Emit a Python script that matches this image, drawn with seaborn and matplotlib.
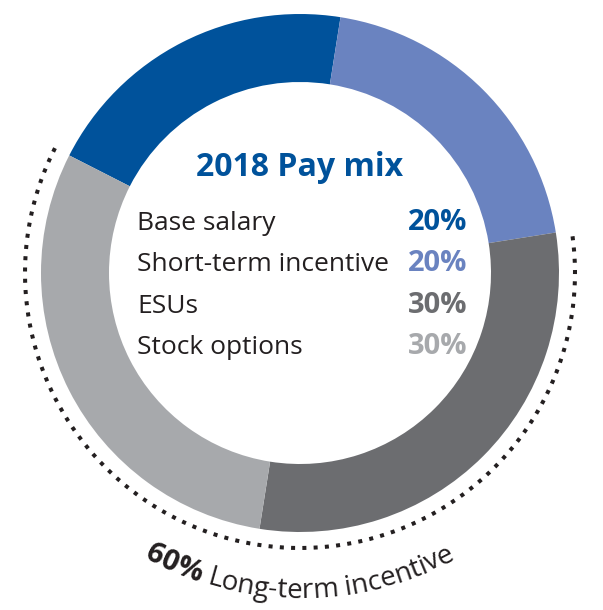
import numpy as np
import matplotlib
matplotlib.use("Agg")
import matplotlib.pyplot as plt
import seaborn as sns
from matplotlib.font_manager import FontProperties

# ---- data ----
categories = ["Base salary", "Short-term incentive", "ESUs", "Stock options"]
values = [20, 20, 30, 30]
pct_labels = ["20%", "20%", "30%", "30%"]
colors = ["#00529B", "#6A83C0", "#6C6D70", "#A7A9AC"]
title = "2018 Pay mix"
lti_categories = ["ESUs", "Stock options"]
lti_pct = "60%"
lti_label = "Long-term incentive"

sns.set_theme(style="white")
plt.rcParams['font.family'] = ['Open Sans', 'DejaVu Sans']
text_color = "#231F20"

W, H = 603, 610
fig = plt.figure(figsize=(W / 100, H / 100), dpi=100)
ax = fig.add_axes([0, 0, 1, 1])

cx, cy = 300, H - 273
R = 259
ring = 68
palette = sns.color_palette(colors)
wedges, _ = ax.pie(values, colors=palette, startangle=153, counterclock=False,
                   radius=R, center=(cx, cy), frame=True,
                   wedgeprops=dict(width=ring, linewidth=0))
ax.set_xlim(0, W)
ax.set_ylim(0, H)
ax.set_aspect('equal')
ax.axis('off')

# dotted arc spanning long-term incentive wedges
idx = [categories.index(c) for c in lti_categories]
th_lo = min(min(wedges[i].theta1, wedges[i].theta2) for i in idx)
th_hi = max(max(wedges[i].theta1, wedges[i].theta2) for i in idx)
Rd = 275
th = np.radians(np.linspace(th_lo, th_hi, 600))
ax.plot(cx + Rd * np.cos(th), cy + Rd * np.sin(th), color=text_color,
        lw=2.9, dashes=(1, 1.8), dash_capstyle='butt')

# title and legend table
ax.text(cx, H - 176, title, ha='center', va='baseline', fontsize=23,
        fontweight='bold', color=colors[0])
baselines = [230, 271, 313, 354]
for cat, pct, col, yb in zip(categories, pct_labels, colors, baselines):
    ax.text(137, H - yb, cat, ha='left', va='baseline', fontsize=19, color=text_color)
    ax.text(467, H - yb, pct, ha='right', va='baseline', fontsize=21,
            fontweight='bold', color=col)

# curved text along bottom
renderer = fig.canvas.get_renderer()
fp_b = FontProperties(family=['Open Sans', 'DejaVu Sans'], weight='bold', size=21)
fp_r = FontProperties(family=['Open Sans', 'DejaVu Sans'], weight='normal', size=20)

def tw(s, fp):
    if not s:
        return 0.0
    w, h, d = renderer.get_text_width_height_descent(s, fp, ismath=False)
    return w

segments = [(lti_pct, fp_b), (" " + lti_label, fp_r)]
chars = []
offset = 0.0
for s, fp in segments:
    for i, ch in enumerate(s):
        x0 = tw(s[:i], fp)
        x1 = tw(s[:i + 1], fp)
        chars.append((ch, fp, offset + (x0 + x1) / 2))
    offset += tw(s, fp)
L = offset
Rt = 325
for ch, fp, s in chars:
    if ch == " ":
        continue
    ang = -np.pi / 2 + (s - L / 2) / Rt
    ax.text(cx + Rt * np.cos(ang), cy + Rt * np.sin(ang), ch, fontproperties=fp,
            rotation=np.degrees(ang) + 90, rotation_mode='anchor',
            ha='center', va='baseline', color=text_color)

fig.savefig("out.png", dpi=100, facecolor='white')
